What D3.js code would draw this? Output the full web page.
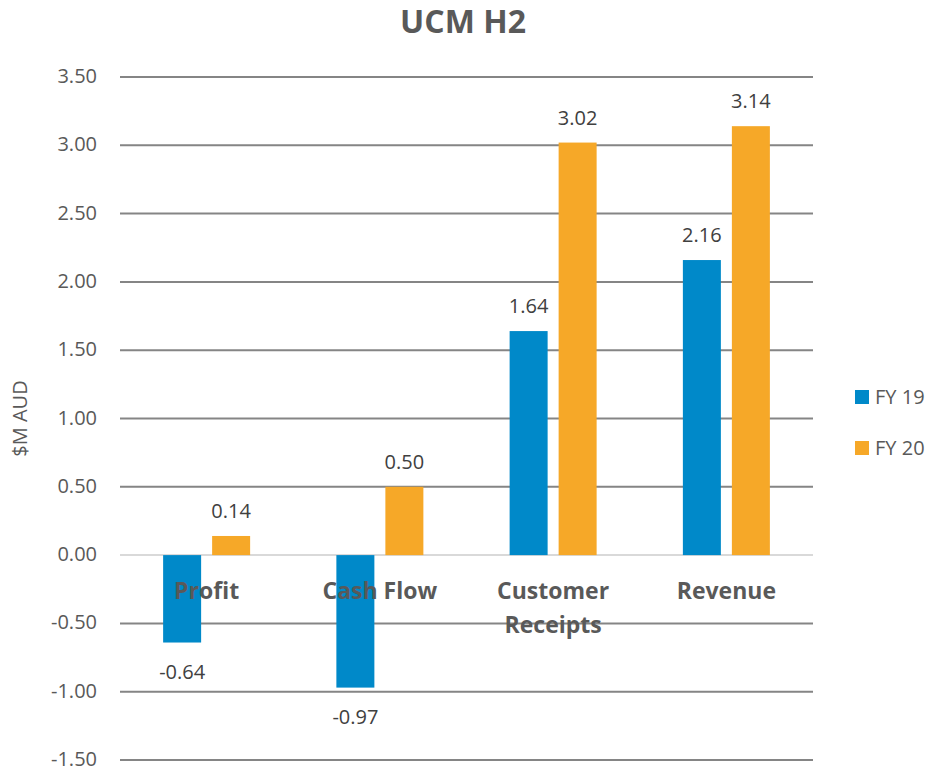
<!DOCTYPE html>
<meta charset="utf-8">
<style>
body { margin: 0; background: #fff; }
text { font-family: 'Open Sans', 'Noto Sans', sans-serif; }
</style>
<script src="https://d3js.org/d3.v7.min.js"></script>
<div id="my_dataviz"></div>
<script>
    // chart data
    var categories = [["Profit"], ["Cash Flow"], ["Customer", "Receipts"], ["Revenue"]];
    var seriesNames = ["FY 19", "FY 20"];
    var fy19 = [-0.64, -0.97, 1.64, 2.16];
    var fy20 = [0.14, 0.50, 3.02, 3.14];
    var yTicks = [3.5, 3.0, 2.5, 2.0, 1.5, 1.0, 0.5, 0.0, -0.5, -1.0, -1.5];
    var colors = ["#0089c9", "#f6a828"];

    var width = 929, height = 771;
    var plot = {left: 120, right: 813, top: 77, bottom: 760};

    var svg = d3.select("#my_dataviz")
      .append("svg")
        .attr("width", width)
        .attr("height", height);

    var x = d3.scaleBand()
        .domain(d3.range(categories.length))
        .range([plot.left, plot.right]);

    var y = d3.scaleLinear()
        .domain([-1.5, 3.5])
        .range([plot.bottom, plot.top]);

    var barW = 38, gap = 11;

    // gridlines
    svg.append("g")
      .selectAll("line")
      .data(yTicks)
      .enter()
      .append("line")
        .attr("x1", plot.left)
        .attr("x2", plot.right)
        .attr("y1", function(d) { return y(d); })
        .attr("y2", function(d) { return y(d); })
        .attr("stroke", function(d) { return d === 0 ? "#d9d9d9" : "#858585"; })
        .attr("stroke-width", 2);

    // y tick labels
    svg.append("g")
      .selectAll("text")
      .data(yTicks)
      .enter()
      .append("text")
        .attr("x", 97)
        .attr("y", function(d) { return y(d) + 6; })
        .attr("text-anchor", "end")
        .style("font-size", "20px")
        .style("fill", "#595959")
        .text(function(d) { return d3.format(".2f")(d).replace("−", "-"); });

    // bars
    var series = [fy19, fy20];
    series.forEach(function(vals, s) {
      var offset = s === 0 ? -gap / 2 - barW : gap / 2;
      svg.append("g")
        .selectAll("rect")
        .data(vals)
        .enter()
        .append("rect")
          .attr("x", function(d, i) { return x(i) + x.bandwidth() / 2 + offset; })
          .attr("y", function(d) { return y(Math.max(0, d)); })
          .attr("width", barW)
          .attr("height", function(d) { return Math.abs(y(d) - y(0)); })
          .attr("fill", colors[s]);

      // value labels
      svg.append("g")
        .selectAll("text")
        .data(vals)
        .enter()
        .append("text")
          .attr("x", function(d, i) { return x(i) + x.bandwidth() / 2 + offset + barW / 2; })
          .attr("y", function(d) { return d >= 0 ? y(d) - 18 : y(d) + 36; })
          .attr("text-anchor", "middle")
          .style("font-size", "20px")
          .style("fill", "#404040")
          .text(function(d) { return d3.format(".2f")(d).replace("−", "-"); });
    });

    // category labels
    var catG = svg.append("g")
      .selectAll("text")
      .data(categories)
      .enter()
      .append("text")
        .attr("x", function(d, i) { return x(i) + x.bandwidth() / 2; })
        .attr("y", y(0) + 44)
        .attr("text-anchor", "middle")
        .style("font-size", "23px")
        .style("font-weight", "bold")
        .style("fill", "#595959");
    catG.selectAll("tspan")
      .data(function(d) { return d; })
      .enter()
      .append("tspan")
        .attr("x", function() { return d3.select(this.parentNode).attr("x"); })
        .attr("dy", function(d, i) { return i === 0 ? 0 : 34; })
        .text(function(d) { return d; });

    // title
    svg.append("text")
      .attr("x", 463)
      .attr("y", 33)
      .attr("text-anchor", "middle")
      .style("font-size", "32px")
      .style("font-weight", "bold")
      .style("fill", "#595959")
      .text("UCM H2");

    // y axis title
    svg.append("text")
      .attr("transform", "translate(27," + ((plot.top + plot.bottom) / 2) + ")rotate(-90)")
      .attr("text-anchor", "middle")
      .style("font-size", "20px")
      .style("fill", "#595959")
      .text("$M AUD");

    // legend
    var legend = svg.append("g")
      .selectAll("g")
      .data(seriesNames)
      .enter()
      .append("g")
        .attr("transform", function(d, i) { return "translate(855," + (390 + i * 51) + ")"; });
    legend.append("rect")
      .attr("width", 14)
      .attr("height", 14)
      .attr("fill", function(d, i) { return colors[i]; });
    legend.append("text")
      .attr("x", 20)
      .attr("y", 14)
      .style("font-size", "20px")
      .style("fill", "#595959")
      .text(function(d) { return d; });
</script>
